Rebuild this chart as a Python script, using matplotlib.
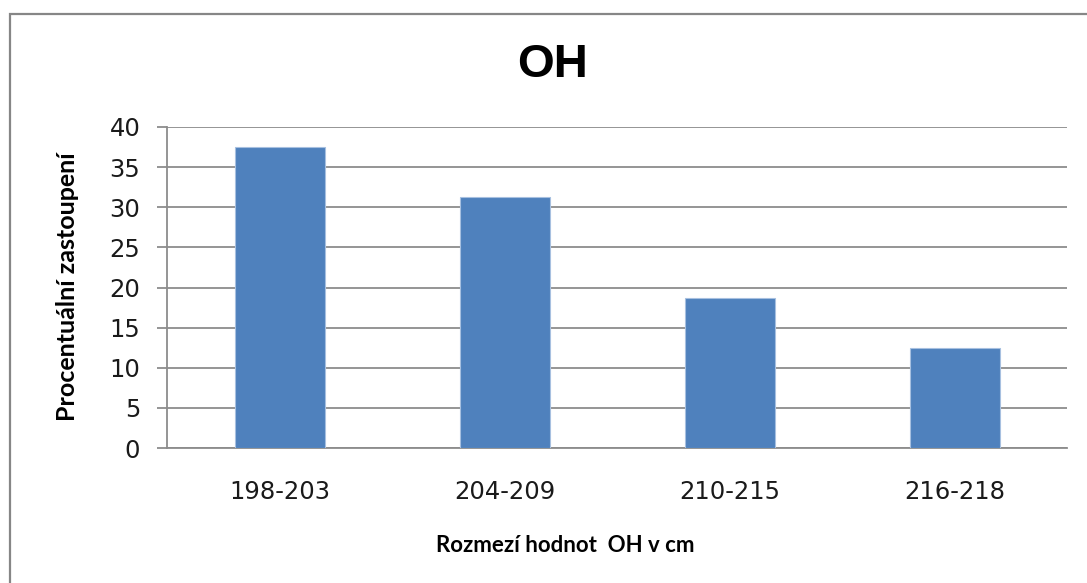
#!/usr/bin/env python
"""Bar chart: percentage share of OH value ranges."""

import matplotlib
matplotlib.use("Agg")
import matplotlib.pyplot as plt
from matplotlib.patches import Rectangle

categories = ["198-203", "204-209", "210-215", "216-218"]
values = [37.5, 31.25, 18.75, 12.5]
yticks = [0, 5, 10, 15, 20, 25, 30, 35, 40]

W, H = 1087, 583
fig = plt.figure(figsize=(W / 100, H / 100), dpi=100)

# outer chart frame (cropped at right and bottom)
fig.patches.append(Rectangle((10 / W, -0.05), 1.2, 1 - 14 / H + 0.05,
                             transform=fig.transFigure, fill=False,
                             edgecolor="#868686", linewidth=1.6))

ax = fig.add_axes([167 / W, 1 - 448 / H, 900 / W, 321 / H])
x = range(len(categories))
ax.bar(x, values, width=0.4, color="#4F81BD", edgecolor="#A7C0E0",
       linewidth=0.8, zorder=3)

ax.set_xlim(-0.5, len(categories) - 0.5)
ax.set_ylim(0, 40)
ax.set_yticks(yticks)
ax.set_xticks(list(x))
ax.set_xticklabels(categories)
ax.yaxis.grid(True, color="#8C8C8C", linewidth=1.3, zorder=0)

for side in ["top", "right"]:
    ax.spines[side].set_visible(False)
ax.spines["left"].set_color("#8C8C8C")
ax.spines["left"].set_linewidth(1.3)
ax.spines["bottom"].set_color("#8C8C8C")
ax.spines["bottom"].set_linewidth(1.3)

ax.tick_params(axis="y", length=7.2, width=1.3, color="#8C8C8C",
               pad=12, labelsize=17.5, labelcolor="#1a1a1a")
ax.tick_params(axis="x", length=0, pad=23, labelsize=17.5,
               labelcolor="#1a1a1a")

fig.text(553 / W, 1 - 65 / H, "OH", ha="center", va="center",
         fontsize=34, fontweight="bold", family="Liberation Sans")
fig.text(68 / W, 1 - 287 / H, "Procentuální zastoupení", rotation=90,
         ha="center", va="center", fontsize=18, fontweight="bold",
         family="Lato")
fig.text(565 / W, 1 - 545 / H, "Rozmezí hodnot  OH v cm", ha="center",
         va="center", fontsize=16, fontweight="bold", family="Lato")

fig.savefig("out.png", dpi=100)
